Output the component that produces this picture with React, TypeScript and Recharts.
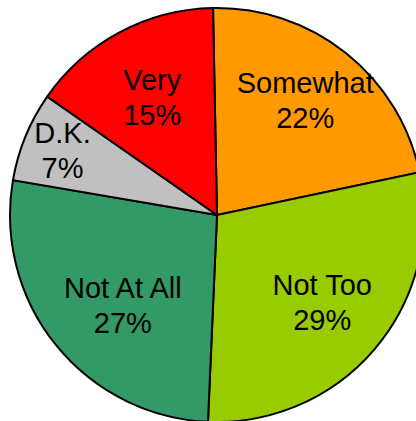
import { PieChart, Pie, Cell } from 'recharts'

const NAMES = ['Somewhat', 'Not Too', 'Not At All', 'D.K.', 'Very']
const VALUES = [22, 29, 27, 7, 15]
const COLORS = ['#FF9900', '#99CC00', '#339966', '#C0C0C0', '#FF0000']

// label placement: share of the radius and angle nudge (degrees) per slice
const LABEL_RADIUS = [0.7, 0.66, 0.63, 0.81, 0.65]
const LABEL_SHIFT = [1, 0.7, 4.9, -0.6, 0.7]

const data = NAMES.map((name, i) => ({ name, value: VALUES[i] }))

const RADIAN = Math.PI / 180

const renderLabel = (props: any) => {
  const { cx, cy, midAngle, outerRadius, name, value, index } = props
  const r = outerRadius * LABEL_RADIUS[index]
  const a = (midAngle + LABEL_SHIFT[index]) * RADIAN
  const x = cx + r * Math.cos(-a)
  const y = cy + r * Math.sin(-a)
  return (
    <text
      x={x}
      y={y}
      textAnchor="middle"
      fill="#000"
      fontSize={29}
      fontFamily="'Liberation Sans', Arial, sans-serif"
    >
      <tspan x={x} dy={-7}>{name}</tspan>
      <tspan x={x} dy={35}>{`${value}%`}</tspan>
    </text>
  )
}

const App = () => (
  <div style={{ position: 'absolute', left: 0, top: 0 }}>
    <PieChart width={416} height={421} margin={{ top: 0, right: 0, bottom: 0, left: 0 }}>
      <Pie
        data={data}
        dataKey="value"
        cx={217}
        cy={215}
        outerRadius={207}
        startAngle={91.1}
        endAngle={-268.9}
        stroke="#000"
        strokeWidth={2}
        label={renderLabel}
        labelLine={false}
        isAnimationActive={false}
      >
        {data.map((entry, index) => (
          <Cell key={`cell-${index}`} fill={COLORS[index]} />
        ))}
      </Pie>
    </PieChart>
  </div>
)

export default App
